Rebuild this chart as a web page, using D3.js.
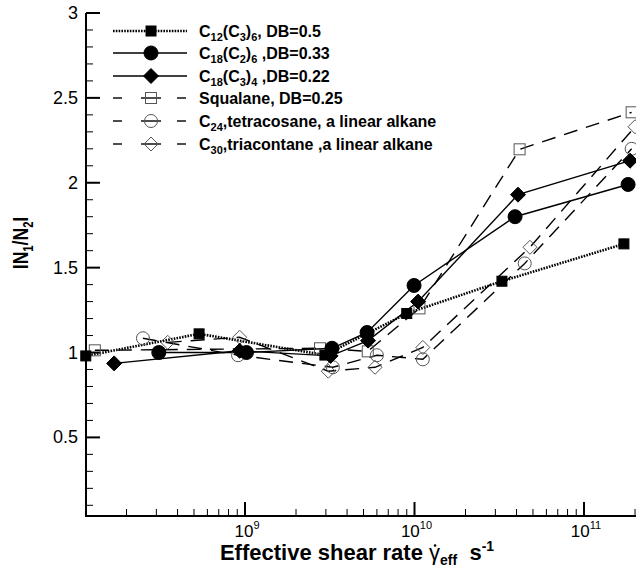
<!DOCTYPE html>
<html>
<head>
<meta charset="utf-8">
<script src="https://cdn.jsdelivr.net/npm/d3@7/dist/d3.min.js"></script>
<style>
  html, body { margin: 0; padding: 0; background: #fff; }
  svg { display: block; }
  text { font-family: "Liberation Sans", Arial, Helvetica, sans-serif; fill: #000; }
</style>
</head>
<body>
<svg id="chart" width="636" height="567"></svg>
<script>
// Shear rates (s^-1) and |N1/N2| for each molecule
const c12c3Rate  = [1.15e8, 5.36e8, 2.96e9, 9.0e9, 3.28e10, 1.72e11];
const c12c3Ratio = [0.98, 1.11, 0.985, 1.23, 1.42, 1.64];

const c18c2Rate  = [3.1e8, 1.02e9, 3.26e9, 5.25e9, 9.94e9, 3.92e10, 1.82e11];
const c18c2Ratio = [1.0, 1.0, 1.025, 1.118, 1.395, 1.80, 1.99];

const c18c3Rate  = [1.69e8, 9.3e8, 3.2e9, 5.32e9, 1.05e10, 4.08e10, 1.87e11];
const c18c3Ratio = [0.936, 1.01, 0.98, 1.07, 1.30, 1.93, 2.13];

const squalaneRate  = [1.3e8, 2.77e9, 5.3e9, 1.07e10, 4.17e10, 1.91e11];
const squalaneRatio = [1.013, 1.025, 1.007, 1.26, 2.197, 2.415];

const c24Rate  = [2.5e8, 9.1e8, 3.3e9, 6.0e9, 1.12e10, 4.47e10, 1.91e11];
const c24Ratio = [1.084, 0.984, 0.913, 0.984, 0.96, 1.525, 2.2];

const c30Rate  = [3.5e8, 9.3e8, 3.1e9, 5.85e9, 1.12e10, 4.8e10, 2.0e11];
const c30Ratio = [1.06, 1.09, 0.89, 0.913, 1.03, 1.62, 2.33];

const yMajorTicks = [0.5, 1, 1.5, 2, 2.5, 3];
const xMajorTicks = [1e9, 1e10, 1e11];

// series descriptions: label pieces [text, isSubscript]
const series = [
  { rate: c12c3Rate, ratio: c12c3Ratio, marker: "square", filled: true, line: "dotted",
    label: [["C",0],["12",1],["(C",0],["3",1],[")",0],["6",1],[", DB=0.5",0]] },
  { rate: c18c2Rate, ratio: c18c2Ratio, marker: "circle", filled: true, line: "solid",
    label: [["C",0],["18",1],["(C",0],["2",1],[")",0],["6",1],[" ,DB=0.33",0]] },
  { rate: c18c3Rate, ratio: c18c3Ratio, marker: "diamond", filled: true, line: "solid",
    label: [["C",0],["18",1],["(C",0],["3",1],[")",0],["4",1],[" ,DB=0.22",0]] },
  { rate: squalaneRate, ratio: squalaneRatio, marker: "square", filled: false, line: "dashed",
    label: [["Squalane, DB=0.25",0]] },
  { rate: c24Rate, ratio: c24Ratio, marker: "circle", filled: false, line: "dashed",
    label: [["C",0],["24",1],[",tetracosane, a linear alkane",0]] },
  { rate: c30Rate, ratio: c30Ratio, marker: "diamond", filled: false, line: "dashed",
    label: [["C",0],["30",1],[",triacontane ,a linear alkane",0]] }
];

const svg = d3.select("#chart");

// log x scale: decades are pinned, then widened to the plotting frame
const xDecades = d3.scaleLog().domain([1e9, 1e11]).range([245, 584]);
const left = 86, right = 642;
const x = d3.scaleLog().domain([xDecades.invert(left), xDecades.invert(right)]).range([left, right]);
const y = d3.scaleLinear().domain([0.037, 3]).range([516, 13]);

const plot = svg.append("g");

// --- axes ---
const axisW = 2;
const yMinor = d3.range(1, 30).map(i => i / 10).filter(v => !yMajorTicks.some(m => Math.abs(m - v) < 1e-9));
plot.selectAll(".ymin").data(yMinor).join("line")
  .attr("x1", left).attr("x2", left + 7)
  .attr("y1", d => y(d)).attr("y2", d => y(d))
  .attr("stroke", "#000").attr("stroke-width", 1);
plot.selectAll(".ymaj").data(yMajorTicks).join("line")
  .attr("x1", left).attr("x2", left + 14)
  .attr("y1", d => y(d)).attr("y2", d => y(d))
  .attr("stroke", "#000").attr("stroke-width", 2);
plot.selectAll(".ylab").data(yMajorTicks).join("text")
  .attr("x", 78).attr("y", d => y(d) + 6)
  .attr("text-anchor", "end").attr("font-size", 18)
  .text(d => d3.format("~g")(d));

const [xd0, xd1] = x.domain();
const xMinor = [];
for (let e = 8; e <= 11; e++) for (let m = 2; m <= 9; m++) {
  const v = m * Math.pow(10, e);
  if (v > xd0 && v < xd1) xMinor.push(v);
}
plot.selectAll(".xmin").data(xMinor).join("line")
  .attr("x1", d => x(d)).attr("x2", d => x(d))
  .attr("y1", y.range()[0]).attr("y2", y.range()[0] - 7)
  .attr("stroke", "#000").attr("stroke-width", 1);
plot.selectAll(".xmaj").data(xMajorTicks).join("line")
  .attr("x1", d => x(d)).attr("x2", d => x(d))
  .attr("y1", y.range()[0]).attr("y2", y.range()[0] - 14)
  .attr("stroke", "#000").attr("stroke-width", 2);
const xl = plot.selectAll(".xlab").data(xMajorTicks).join("text")
  .attr("x", d => x(d) + 2).attr("y", 537)
  .attr("text-anchor", "middle").attr("font-size", 17);
xl.append("tspan").text("10");
xl.append("tspan").attr("dy", -8).attr("font-size", 11).text(d => Math.round(Math.log10(d)));

plot.append("line").attr("x1", left).attr("x2", left).attr("y1", y.range()[0] + 1).attr("y2", y(3))
  .attr("stroke", "#000").attr("stroke-width", axisW);
plot.append("line").attr("x1", left - 1).attr("x2", right).attr("y1", y.range()[0]).attr("y2", y.range()[0])
  .attr("stroke", "#000").attr("stroke-width", axisW);

// --- markers ---
function drawMarker(g, s, cx, cy) {
  const fill = s.filled ? "#000" : "none";
  const stroke = s.filled ? "#000" : "#555";
  if (s.marker === "square") {
    const h = s.filled ? 5 : 5.5;
    g.append("rect").attr("x", cx - h).attr("y", cy - h).attr("width", 2 * h).attr("height", 2 * h)
      .attr("fill", fill).attr("stroke", stroke).attr("stroke-width", 1);
  } else if (s.marker === "circle") {
    g.append("circle").attr("cx", cx).attr("cy", cy).attr("r", s.filled ? 7 : 6.5)
      .attr("fill", fill).attr("stroke", stroke).attr("stroke-width", 1);
  } else {
    const r = s.filled ? 7.5 : 7;
    g.append("path").attr("d", `M${cx},${cy - r}L${cx + r},${cy}L${cx},${cy + r}L${cx - r},${cy}Z`)
      .attr("fill", fill).attr("stroke", stroke).attr("stroke-width", 1);
  }
}

function styleLine(sel, s) {
  sel.attr("fill", "none").attr("stroke", "#000");
  if (s.line === "dotted") sel.attr("stroke-width", 2.6).attr("stroke-dasharray", "1.6,1.2");
  else if (s.line === "dashed") sel.attr("stroke-width", 1.4).attr("stroke-dasharray", "14,9");
  else sel.attr("stroke-width", 1.4);
  return sel;
}

const lineGen = d3.line().x(d => x(d[0])).y(d => y(d[1]));

const dataLayer = svg.append("g");
series.slice().reverse().forEach(s => {
  const pts = s.rate.map((r, i) => [r, s.ratio[i]]);
  styleLine(dataLayer.append("path").attr("d", lineGen(pts)), s);
});
series.slice().reverse().forEach(s => {
  const g = dataLayer.append("g");
  s.rate.forEach((r, i) => drawMarker(g, s, x(r), y(s.ratio[i])));
});

// --- legend ---
const legend = svg.append("g");
const legRows = [31, 53, 76, 98, 121, 144];
series.forEach((s, i) => {
  const ly = legRows[i];
  const g = legend.append("g");
  if (s.line === "dashed") {
    [[113, 122], [141, 161], [177, 186]].forEach(([a, b]) =>
      g.append("line").attr("x1", a).attr("x2", b).attr("y1", ly).attr("y2", ly)
        .attr("stroke", "#000").attr("stroke-width", 1.4));
  } else {
    styleLine(g.append("line").attr("x1", 113).attr("x2", 187).attr("y1", ly).attr("y2", ly), s);
  }
  drawMarker(g, s, 151, ly);
  const t = g.append("text").attr("x", 199).attr("y", ly + 5.5).attr("font-size", 16).attr("font-weight", "bold");
  let sub = false;
  s.label.forEach(([txt, isSub]) => {
    const ts = t.append("tspan").text(txt);
    if (isSub && !sub) { ts.attr("dy", 4).attr("font-size", 11); sub = true; }
    else if (isSub) { ts.attr("font-size", 11); }
    else if (sub) { ts.attr("dy", -4); sub = false; }
  });
});

// --- axis titles ---
const yt = svg.append("text")
  .attr("transform", "translate(28,243) scale(1,0.8) rotate(-90)")
  .attr("text-anchor", "middle").attr("font-size", 22).attr("font-weight", "bold");
yt.append("tspan").text("IN");
yt.append("tspan").attr("dy", 5).attr("font-size", 14).text("1");
yt.append("tspan").attr("dy", -5).text("/N");
yt.append("tspan").attr("dy", 5).attr("font-size", 14).text("2");
yt.append("tspan").attr("dy", -5).text("I");

const xt = svg.append("text")
  .attr("x", 357).attr("y", 560)
  .attr("text-anchor", "middle").attr("font-size", 22).attr("font-weight", "bold");
const lead = "Effective shear rate ";
xt.append("tspan").text(lead);
xt.append("tspan").attr("font-weight", "normal").text("\u03B3");
xt.append("tspan").attr("dy", 5).attr("font-size", 14).text("eff");
xt.append("tspan").attr("dy", -5).text("\u00A0\u00A0s");
xt.append("tspan").attr("dy", -9).attr("font-size", 14).text("-1");
// dot over the gamma (shear-rate symbol)
const gBox = xt.node().getExtentOfChar(lead.length);
svg.append("circle")
  .attr("cx", gBox.x + gBox.width * 0.55).attr("cy", gBox.y + gBox.height * 0.22)
  .attr("r", 1.3).attr("fill", "#000");
</script>
</body>
</html>
